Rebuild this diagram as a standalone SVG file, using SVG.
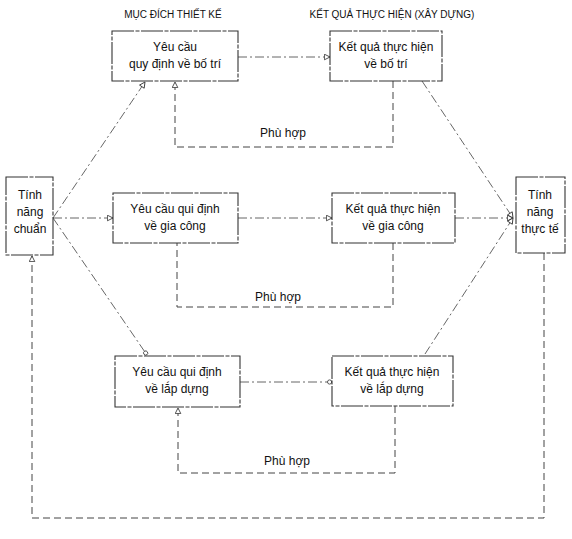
<svg xmlns="http://www.w3.org/2000/svg" width="572" height="539" viewBox="0 0 572 539">
<style>
.box{fill:#fff;stroke:#333;stroke-width:1.1;stroke-dasharray:22 1.5 4 1.5}
.t{font-family:"Liberation Sans",Arial,sans-serif;font-size:12px;fill:#111;text-anchor:middle}
.h{font-family:"Liberation Sans",Arial,sans-serif;font-size:10px;fill:#111;text-anchor:middle}
.c{fill:none;stroke:#555;stroke-width:0.9;stroke-dasharray:9 3 2 3}
.f{fill:none;stroke:#444;stroke-width:1;stroke-dasharray:7 4}
</style>
<defs>
<marker id="tri" viewBox="0 0 10 10" refX="9" refY="5" markerWidth="7" markerHeight="7" orient="auto" markerUnits="userSpaceOnUse">
<path d="M1,1 L9,5 L1,9 Z" fill="#fff" stroke="#333" stroke-width="1.2"/>
</marker>
<marker id="cir" viewBox="0 0 10 10" refX="9" refY="5" markerWidth="6" markerHeight="6" orient="auto" markerUnits="userSpaceOnUse">
<circle cx="5" cy="5" r="3.5" fill="#fff" stroke="#333" stroke-width="1.3"/>
</marker>
</defs>
<rect width="572" height="539" fill="#fff"/>
<text class="h" x="173" y="18">MỤC ĐÍCH THIẾT KẾ</text>
<text class="h" x="392" y="18">KẾT QUẢ THỰC HIỆN (XÂY DỰNG)</text>
<g id="connectors">
<line class="c" x1="238" y1="57" x2="330" y2="57" marker-end="url(#tri)"/>
<line class="c" x1="53" y1="218" x2="113" y2="218" marker-end="url(#tri)"/>
<line class="c" x1="238" y1="218" x2="332" y2="218" marker-end="url(#tri)"/>
<line class="c" x1="455" y1="218" x2="513" y2="218" marker-end="url(#tri)"/>
<line class="c" x1="240" y1="382" x2="332" y2="382" marker-end="url(#cir)"/>
<line class="c" x1="53" y1="218" x2="145" y2="82" marker-end="url(#tri)"/>
<line class="c" x1="53" y1="218" x2="147" y2="355" marker-end="url(#cir)"/>
<line class="c" x1="422" y1="81" x2="513" y2="218" marker-end="url(#tri)"/>
<line class="c" x1="425" y1="354" x2="513" y2="218" marker-end="url(#tri)"/>
<polyline class="f" points="393,81 393,147 175,147 175,82" marker-end="url(#tri)"/>
<polyline class="f" points="393,243 393,307 177,307 177,243"/>
<polyline class="f" points="395,406 395,473 178,473 178,408" marker-end="url(#tri)"/>
<polyline class="f" points="544,253 544,518 32,518 32,256" marker-end="url(#tri)"/>
<text class="t" x="283" y="137">Phù hợp</text>
<text class="t" x="278" y="301">Phù hợp</text>
<text class="t" x="287" y="465">Phù hợp</text>
</g>
<g id="n-chuan">
<rect class="box" x="6" y="177" width="47" height="78"/>
<text class="t" x="30" y="199">Tính</text>
<text class="t" x="30" y="216">năng</text>
<text class="t" x="30" y="233">chuẩn</text>
</g>
<g id="n-thucte">
<rect class="box" x="516" y="177" width="49" height="76"/>
<text class="t" x="540" y="199">Tính</text>
<text class="t" x="540" y="216">năng</text>
<text class="t" x="540" y="233">thực tế</text>
</g>
<g id="n-yc-botri">
<rect class="box" x="112" y="31" width="126" height="50"/>
<text class="t" x="175" y="51">Yêu cầu</text>
<text class="t" x="175" y="68">quy định về bố trí</text>
</g>
<g id="n-kq-botri">
<rect class="box" x="330" y="31" width="112" height="50"/>
<text class="t" x="386" y="51">Kết quả thực hiện</text>
<text class="t" x="386" y="68">về bố trí</text>
</g>
<g id="n-yc-giacong">
<rect class="box" x="113" y="193" width="125" height="50"/>
<text class="t" x="175" y="213">Yêu cầu qui định</text>
<text class="t" x="175" y="230">về gia công</text>
</g>
<g id="n-kq-giacong">
<rect class="box" x="332" y="193" width="123" height="50"/>
<text class="t" x="393" y="213">Kết quả thực hiện</text>
<text class="t" x="393" y="230">về gia công</text>
</g>
<g id="n-yc-lapdung">
<rect class="box" x="115" y="356" width="125" height="51"/>
<text class="t" x="177" y="376">Yêu cầu qui định</text>
<text class="t" x="177" y="393">về lắp dựng</text>
</g>
<g id="n-kq-lapdung">
<rect class="box" x="332" y="356" width="121" height="50"/>
<text class="t" x="392" y="376">Kết quả thực hiện</text>
<text class="t" x="392" y="393">về lắp dựng</text>
</g>
</svg>
